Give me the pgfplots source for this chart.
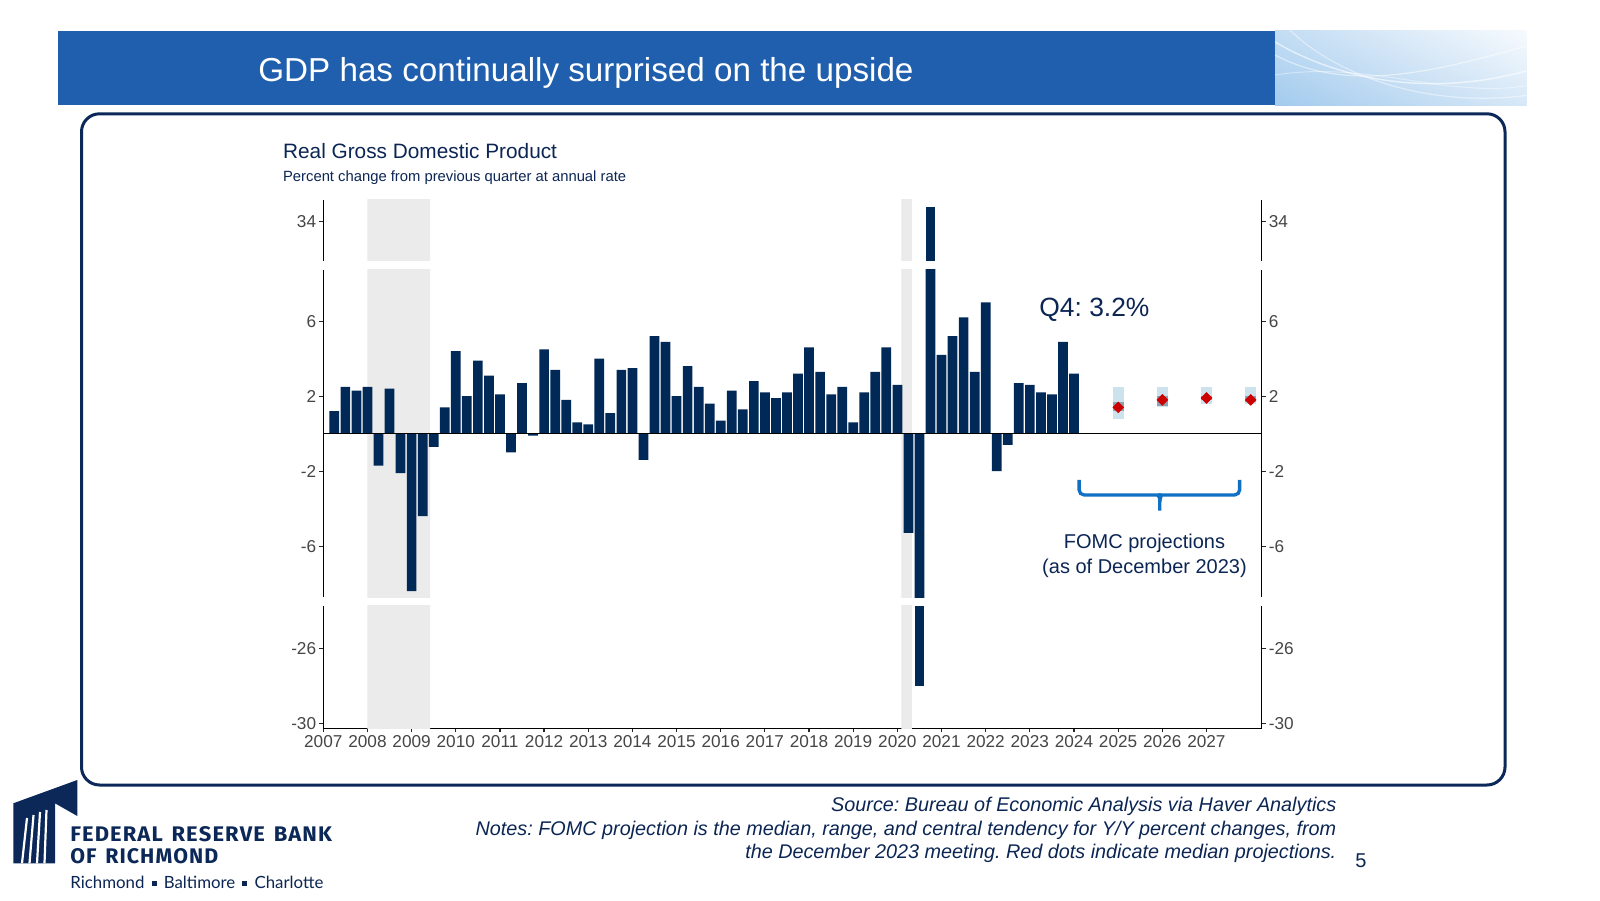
\documentclass[border=0pt]{standalone}
\usepackage{pgfplots}
\usepackage{pgfplotstable}
\pgfplotsset{compat=1.18}
\usepackage{fontspec}
\setmainfont{Liberation Sans}
\newfontfamily\logofont{Fira Sans}
\newfontfamily\placefont{Lato}
\frenchspacing

\definecolor{barnavy}{RGB}{0,41,87}
\definecolor{textnavy}{RGB}{12,38,84}
\definecolor{banner}{RGB}{31,95,173}
\definecolor{framecol}{RGB}{11,40,88}
\definecolor{recess}{RGB}{235,235,235}
\definecolor{ticktext}{RGB}{70,70,70}
\definecolor{rangeblue}{RGB}{204,227,238}
\definecolor{ctgrey}{RGB}{140,163,177}
\definecolor{median}{RGB}{204,0,0}
\definecolor{bracecol}{RGB}{16,113,196}
\definecolor{waveA}{RGB}{163,203,238}
\definecolor{waveB}{RGB}{243,248,253}

% Real GDP, percent change from previous quarter at annual rate (x = end of quarter)
\pgfplotstableread{
x y
2007.25 1.2
2007.50 2.5
2007.75 2.3
2008.00 2.5
2008.25 -1.7
2008.50 2.4
2008.75 -2.1
2009.00 -8.4
2009.25 -4.4
2009.50 -0.7
2009.75 1.4
2010.00 4.4
2010.25 2.0
2010.50 3.9
2010.75 3.1
2011.00 2.1
2011.25 -1.0
2011.50 2.7
2011.75 -0.1
2012.00 4.5
2012.25 3.4
2012.50 1.8
2012.75 0.6
2013.00 0.5
2013.25 4.0
2013.50 1.1
2013.75 3.4
2014.00 3.5
2014.25 -1.4
2014.50 5.2
2014.75 4.9
2015.00 2.0
2015.25 3.6
2015.50 2.5
2015.75 1.6
2016.00 0.7
2016.25 2.3
2016.50 1.3
2016.75 2.8
2017.00 2.2
2017.25 1.9
2017.50 2.2
2017.75 3.2
2018.00 4.6
2018.25 3.3
2018.50 2.1
2018.75 2.5
2019.00 0.6
2019.25 2.2
2019.50 3.3
2019.75 4.6
2020.00 2.6
2020.25 -5.3
2020.50 -28.0
2020.75 34.8
2021.00 4.2
2021.25 5.2
2021.50 6.2
2021.75 3.3
2022.00 7.0
2022.25 -2.0
2022.50 -0.6
2022.75 2.7
2023.00 2.6
2023.25 2.2
2023.50 2.1
2023.75 4.9
2024.00 3.2
}\gdp

\pgfplotsset{
  seg/.style={
    scale only axis, width=469.2pt,
    xmin=2007, xmax=2028.25, enlargelimits=false,
    axis line style={-, black, line width=0.75pt},
    tick align=outside, major tick length=2pt,
    tick style={black!85, line width=0.6pt},
    tick label style={font=\fontsize{8.6}{10}\selectfont, text=ticktext, inner sep=1.4pt},
    /pgf/number format/1000 sep={},
    /pgf/number format/assume math mode=true,
    xtick={2007,...,2027},
    unbounded coords=jump,
  },
  segleft/.style={seg, axis y line*=left},
  segright/.style={seg, axis y line*=right, hide x axis},
}

% NBER recessions: Dec 2007 - Jun 2009, Feb - Apr 2020
\newcommand\recessions{%
  \addplot[ybar, bar width=1.42, bar shift=0pt, fill=recess, draw=none]
    coordinates {(2008.71,40) (2008.71,-40)};
  \addplot[ybar, bar width=0.24, bar shift=0pt, fill=recess, draw=none]
    coordinates {(2020.21,40) (2020.21,-40)};
}
% quarterly bars; #1 keeps only the quarters that reach the segment
\newcommand\gdpbars[1]{%
  \addplot[ybar, bar width=0.22, bar shift=0pt, fill=barnavy, draw=none,
    restrict y to domain=#1]
    table[x=x, y=y]{\gdp};
}

\begin{document}
\begin{tikzpicture}
\path[use as bounding box, fill=white] (0,0) rectangle (800pt,450pt);

\begin{scope}[shift={(0pt,450pt)}, x=0.5pt, y=-0.5pt]
  % title banner
  \fill[banner] (58.2,30.6) rectangle (1275,105.2);
  \shade[left color=waveA, right color=waveB] (1275,30.6) rectangle (1526.5,105.2);
  \begin{scope}
    \clip (1275,30.6) rectangle (1526.5,105.2);
    \shade[top color=white, bottom color=waveA, opacity=0.35] (1275,30.6) rectangle (1526.5,105.2);
    \draw[white, opacity=0.6, line width=0.7pt] (1275,42) .. controls (1340,80) and (1430,98) .. (1530,70);
    \draw[white, opacity=0.5, line width=0.6pt] (1275,55) .. controls (1350,95) and (1440,70) .. (1530,45);
    \draw[white, opacity=0.45, line width=0.6pt] (1290,30) .. controls (1330,70) and (1420,110) .. (1530,95);
    \draw[white, opacity=0.4, line width=0.5pt] (1275,75) .. controls (1370,60) and (1450,100) .. (1530,85);
  \end{scope}
  \node[anchor=base west, inner sep=0, text=white, font=\fontsize{16.6}{20}\selectfont]
    at (258,81.4) {GDP has continually surprised on the upside};

  % panel frame
  \draw[framecol, line width=1.5pt, rounded corners=9pt] (81.5,113.8) rectangle (1505,785);

  % chart titles
  \node[anchor=base west, inner sep=0, text=textnavy, font=\fontsize{10.4}{12}\selectfont]
    at (282.7,158.5) {Real Gross Domestic Product};
  \node[anchor=base west, inner sep=0, text=textnavy, font=\fontsize{7.4}{9}\selectfont]
    at (282.7,181.5) {Percent change from previous quarter at annual rate};

  % annotations
  \node[anchor=base west, inner sep=0, text=textnavy, font=\fontsize{13.2}{15}\selectfont]
    at (1039,316.8) {Q4: 3.2\%};
  \node[anchor=base, inner sep=0, text=textnavy, font=\fontsize{10}{12}\selectfont]
    at (1144.5,549) {FOMC projections};
  \node[anchor=base, inner sep=0, text=textnavy, font=\fontsize{10}{12}\selectfont]
    at (1144.5,573.5) {(as of December 2023)};

  % footnotes
  \begin{scope}[every node/.style={anchor=base east, inner sep=0, text=textnavy,
      font=\fontsize{9.9}{12}\selectfont\itshape}]
    \node at (1336.7,811) {Source: Bureau of Economic Analysis via Haver Analytics};
    \node at (1336.7,835) {Notes: FOMC projection is the median, range, and central tendency for Y/Y percent changes, from};
    \node at (1336.7,858.6) {the December 2023 meeting. Red dots indicate median projections.};
  \end{scope}
  \node[anchor=base, inner sep=0, text=textnavy, font=\fontsize{10}{12}\selectfont] at (1361,867) {5};

  % logo
  \fill[framecol] (13.3,803.3) -- (77.3,780) -- (77.3,816) -- (55,803.3) -- (55,863.3) -- (13.3,863.3) -- cycle;
  \draw[white, line width=1.1pt] (27,818) -- (22,863.3);
  \draw[white, line width=1.1pt] (33.5,815) -- (29.5,863.3);
  \draw[white, line width=1.1pt] (40,812) -- (37,863.3);
  \draw[white, line width=1.1pt] (46.5,810) -- (44.5,863.3);
  \node[anchor=base west, inner sep=0, text=framecol] at (70,841.7)
    {\resizebox{130.8pt}{7.5pt}{\logofont\bfseries F\kern.5pt E\kern.5pt D\kern.5pt E\kern.5pt R\kern.5pt A\kern.5pt L\, R\kern.5pt E\kern.5pt S\kern.5pt E\kern.5pt R\kern.5pt V\kern.5pt E\, B\kern.5pt A\kern.5pt N\kern.5pt K}};
  \node[anchor=base west, inner sep=0, text=framecol] at (70,863.3)
    {\resizebox{74pt}{7.5pt}{\logofont\bfseries O\kern.5pt F\, R\kern.5pt I\kern.5pt C\kern.5pt H\kern.5pt M\kern.5pt O\kern.5pt N\kern.5pt D}};
  \node[anchor=base west, inner sep=0, text=textnavy] at (70,888)
    {\resizebox{126.5pt}{!}{\placefont Richmond\, \rule[0.25ex]{0.3em}{0.3em}\, Baltimore\, \rule[0.25ex]{0.3em}{0.3em}\, Charlotte}};
\end{scope}

% bottom segment of the broken axis
\begin{axis}[segleft, axis x line*=bottom, at={(161.65pt,85.85pt)}, anchor=south west,
    height=61.15pt, ymin=-30.27, ymax=-23.74, ytick={-30,-26}]
  \recessions
  \gdpbars{-100:-23.74}
\end{axis}
\begin{axis}[segright, at={(161.65pt,85.85pt)}, anchor=south west,
    height=61.15pt, ymin=-30.27, ymax=-23.74, ytick={-30,-26}]
\end{axis}

% middle segment
\begin{axis}[segleft, hide x axis, at={(161.65pt,151.35pt)}, anchor=south west,
    height=163.65pt, ymin=-8.73, ymax=8.73, ytick={-6,-2,2,6}]
  \recessions
  \gdpbars{-100:100}
  \addplot[black, line width=0.75pt] coordinates {(2007,0) (2028.25,0)};
  % FOMC range
  \addplot[rangeblue, line width=5.5pt] coordinates {
    (2025,0.8) (2025,2.5) (2025,nan)
    (2026,1.4) (2026,2.5) (2026,nan)
    (2027,1.6) (2027,2.5) (2027,nan)
    (2028,1.6) (2028,2.5)};
  % FOMC central tendency
  \addplot[ctgrey, line width=5.5pt] coordinates {
    (2025,1.2) (2025,1.7) (2025,nan)
    (2026,1.5) (2026,2.0) (2026,nan)
    (2027,1.8) (2027,2.0) (2027,nan)
    (2028,1.7) (2028,2.0)};
  % FOMC median
  \addplot[only marks, mark=square*, mark size=1.85pt,
    mark options={rotate=45, fill=median, draw=median}]
    coordinates {(2025,1.4) (2026,1.8) (2027,1.9) (2028,1.8)};
  % brace under the projections
  \draw[bracecol, line width=1.65pt, rounded corners=2.5pt]
    (axis cs:2024.115,-2.47) -- (axis cs:2024.115,-3.27) -- (axis cs:2025.80,-3.27)
    to[out=0,in=90] (axis cs:2025.94,-3.65) -- (axis cs:2025.94,-4.11);
  \draw[bracecol, line width=1.65pt, rounded corners=2.5pt]
    (axis cs:2027.75,-2.47) -- (axis cs:2027.75,-3.27) -- (axis cs:2026.08,-3.27)
    to[out=180,in=90] (axis cs:2025.94,-3.65);
\end{axis}
\begin{axis}[segright, at={(161.65pt,151.35pt)}, anchor=south west,
    height=163.65pt, ymin=-8.73, ymax=8.73, ytick={-6,-2,2,6}]
\end{axis}

% top segment
\begin{axis}[segleft, hide x axis, at={(161.65pt,319.5pt)}, anchor=south west,
    height=30.5pt, ymin=31.9, ymax=35.16, ytick={34}]
  \recessions
  \gdpbars{31.9:100}
\end{axis}
\begin{axis}[segright, at={(161.65pt,319.5pt)}, anchor=south west,
    height=30.5pt, ymin=31.9, ymax=35.16, ytick={34}]
\end{axis}
\end{tikzpicture}
\end{document}
